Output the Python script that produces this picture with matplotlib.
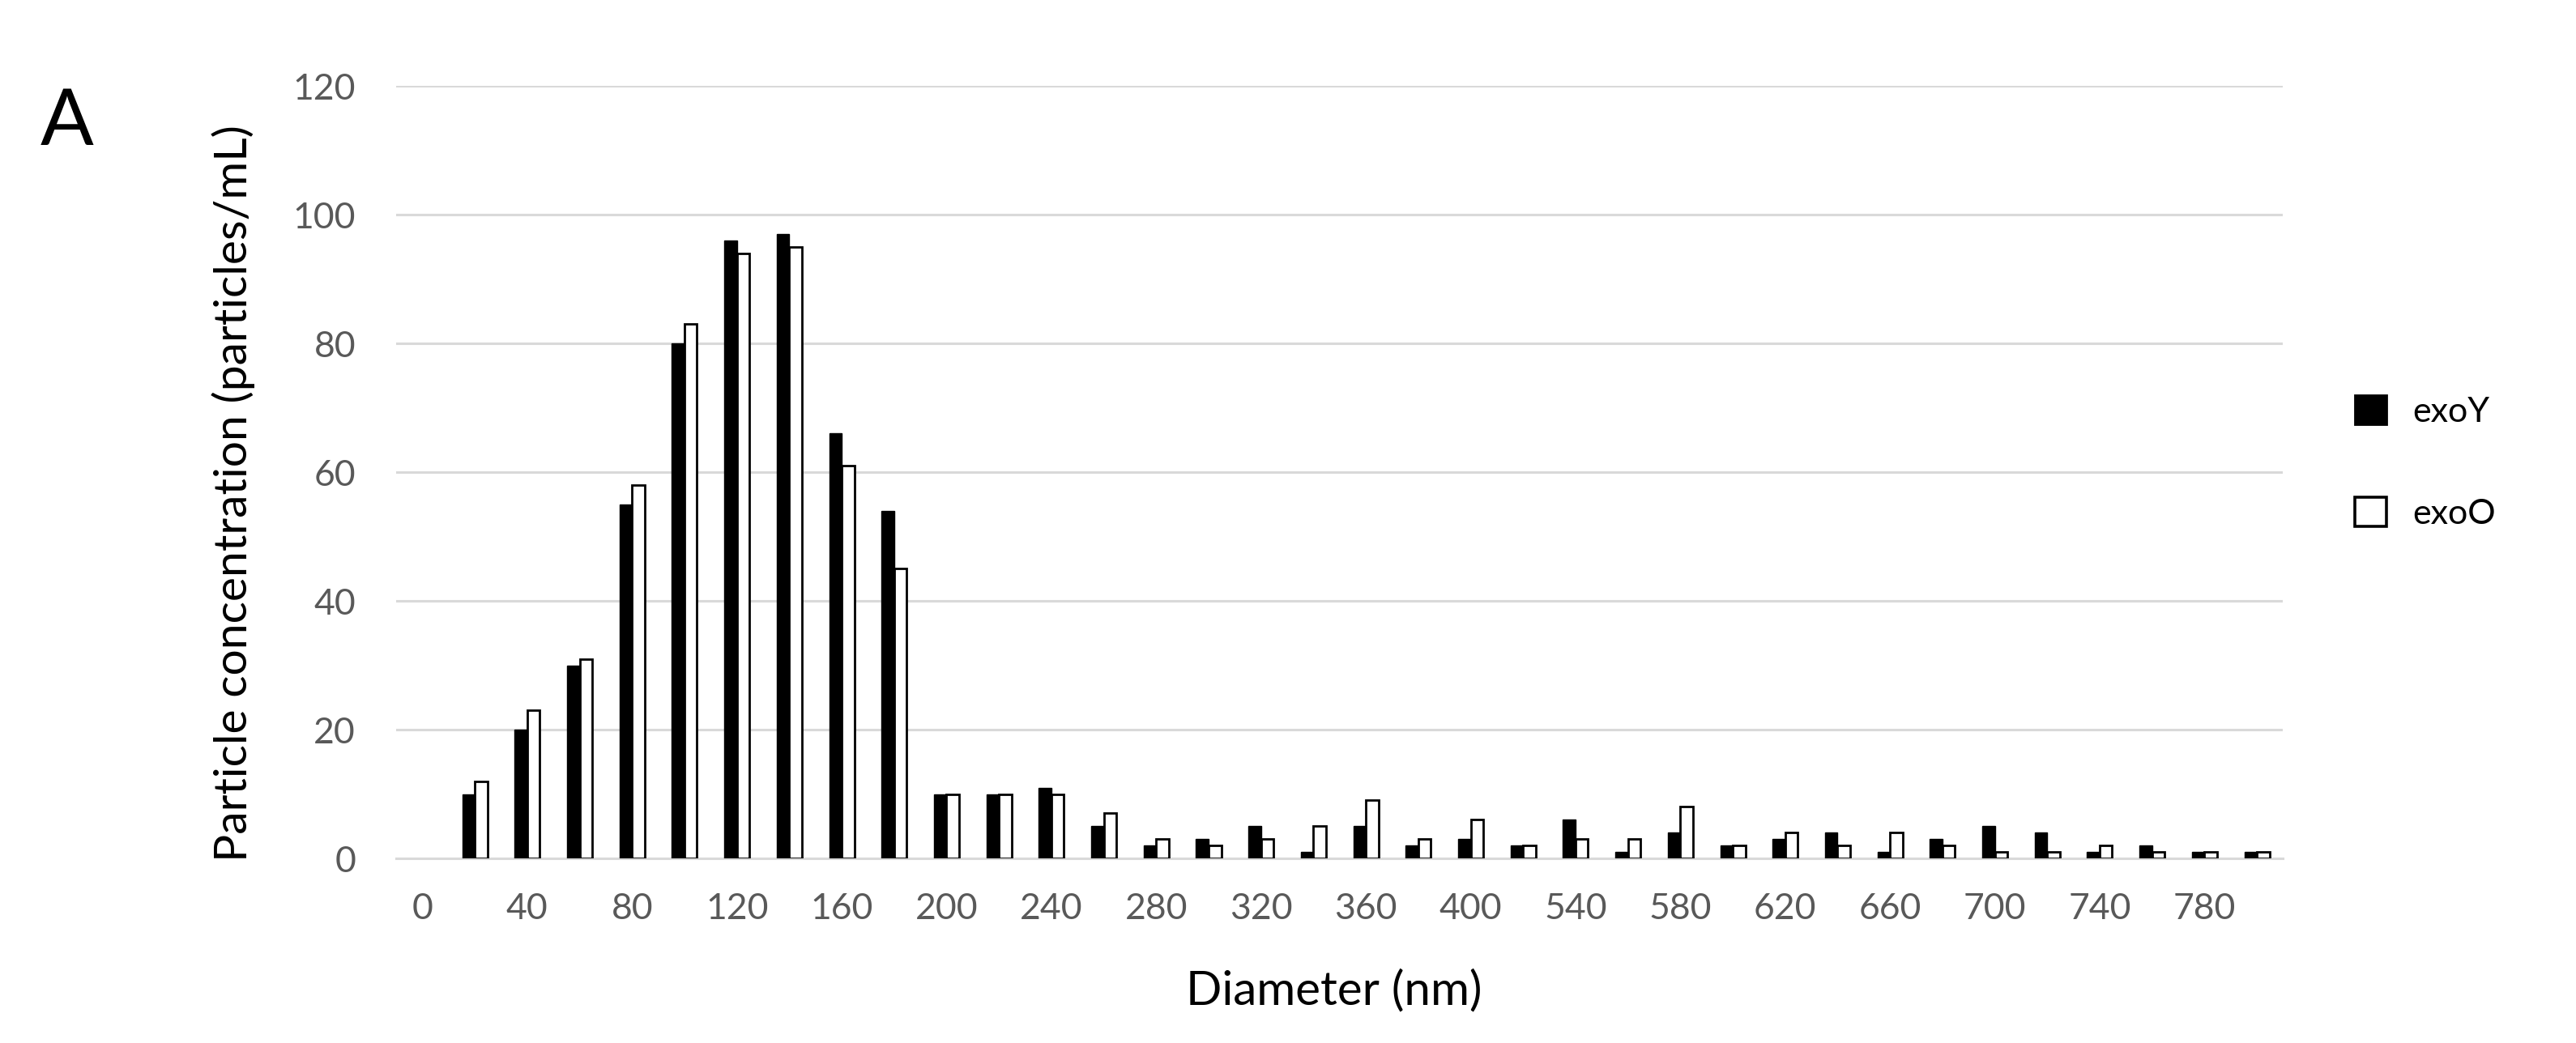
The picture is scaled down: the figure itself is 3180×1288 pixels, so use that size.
import numpy as np
import matplotlib.pyplot as plt
from matplotlib.patches import Patch

plt.rcParams['font.family'] = ['Lato', 'DejaVu Sans']

# Diameter bins (nm), only every other one is labelled on the axis
diameters = ["0", "20", "40", "60", "80", "100", "120", "140", "160", "180",
             "200", "220", "240", "260", "280", "300", "320", "340", "360", "380",
             "400", "420", "540", "560", "580", "600", "620", "640", "660", "680",
             "700", "720", "740", "760", "780", "800"]
exoY = [0, 10, 20, 30, 55, 80, 96, 97, 66, 54,
        10, 10, 11, 5, 2, 3, 5, 1, 5, 2,
        3, 2, 6, 1, 4, 2, 3, 4, 1, 3,
        5, 4, 1, 2, 1, 1]
exoO = [0, 12, 23, 31, 58, 83, 94, 95, 61, 45,
        10, 10, 10, 7, 3, 2, 3, 5, 9, 3,
        6, 2, 3, 3, 8, 2, 4, 2, 4, 2,
        1, 1, 2, 1, 1, 1]

x = np.arange(len(diameters))
w = 0.24

fig = plt.figure(figsize=(15.9, 6.44), dpi=200)
ax = fig.add_axes([0.1538, 0.177, 0.7325, 0.7407])

# no outline for empty bins
lw_y = [0 if v == 0 else 0.5 for v in exoY]
lw_o = [0 if v == 0 else 1.0 for v in exoO]
ax.bar(x - w / 2, exoY, width=w, color="black", edgecolor="black", linewidth=lw_y, zorder=3)
ax.bar(x + w / 2, exoO, width=w, color="white", edgecolor="black", linewidth=lw_o, zorder=3)

ax.set_xlim(-0.5, len(diameters) - 0.5)
ax.set_ylim(0, 120)
ax.set_yticks(np.arange(0, 121, 20))
ax.set_xticks(x[::2])
ax.set_xticklabels(diameters[::2])
ax.grid(axis="y", color="#d9d9d9", linewidth=1.1, zorder=0)
for s in ["top", "right", "left"]:
    ax.spines[s].set_visible(False)
ax.spines["bottom"].set_color("#d9d9d9")
ax.spines["bottom"].set_linewidth(1.1)
ax.tick_params(length=0, labelsize=16, labelcolor="#595959")
ax.tick_params(axis="y", pad=18)
ax.tick_params(axis="x", pad=15)

fig.text(0.0905, 0.527, "Particle concentration (particles/mL)", rotation=90,
         ha="center", va="center", fontsize=20.5)
fig.text(0.518, 0.05, "Diameter (nm)", ha="center", va="center", fontsize=21)
fig.text(0.026, 0.882, "A", ha="center", va="center", fontsize=35)

handles = [Patch(facecolor="black", edgecolor="black"),
           Patch(facecolor="white", edgecolor="black", linewidth=1.3)]
fig.legend(handles, ["exoY", "exoO"], loc="center left",
           bbox_to_anchor=(0.914, 0.557), frameon=False, fontsize=15.5,
           borderpad=0, borderaxespad=0,
           handlelength=0.92, handleheight=0.92, labelspacing=2.0, handletextpad=0.75)

fig.savefig("out.png", dpi=200, facecolor="white")
